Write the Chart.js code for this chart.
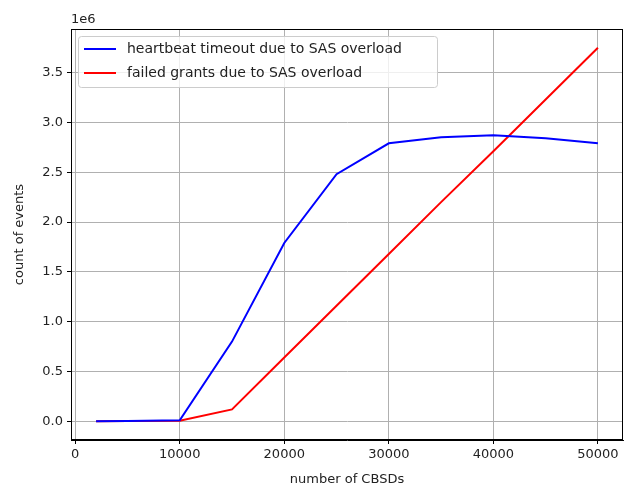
<!DOCTYPE html>
<html>
<head>
<meta charset="utf-8">
<script src="https://cdn.jsdelivr.net/npm/chart.js@4.4.0/dist/chart.umd.min.js"></script>
<style>
  html, body { margin: 0; padding: 0; background: #fff; }
  #wrap { width: 625px; height: 485px; }
</style>
</head>
<body>
<div id="wrap"><canvas id="chart" width="625" height="485"></canvas></div>
<script>
// data
var cbsds = [2000, 5000, 10000, 15000, 20000, 25000, 30000, 35000, 40000, 45000, 50000];
var heartbeatTimeouts = [0, 3000, 10000, 800000, 1790000, 2480000, 2790000, 2850000, 2870000, 2840000, 2790000];
var failedGrants = [0, 2000, 5000, 120000, 640000, 1160000, 1680000, 2200000, 2710000, 3230000, 3750000];
var xTicks = [0, 10000, 20000, 30000, 40000, 50000];
var yTicks = [0, 500000, 1000000, 1500000, 2000000, 2500000, 3000000, 3500000];
var seriesNames = ['heartbeat timeout due to SAS overload', 'failed grants due to SAS overload'];

var FONT = 'DejaVu Sans';

function toPoints(xs, ys) {
  return xs.map(function (x, i) { return { x: x, y: ys[i] }; });
}

// frame, "1e6" offset text and the legend box
var decorPlugin = {
  id: 'decor',
  afterDraw: function (chart) {
    var ctx = chart.ctx;
    var a = chart.chartArea;
    ctx.save();
    ctx.strokeStyle = '#000';
    ctx.lineWidth = 1;
    ctx.strokeRect(a.left + 0.5, a.top + 0.5, a.right - a.left - 1, a.bottom - a.top - 1);

    ctx.fillStyle = '#222';
    ctx.font = '13px "' + FONT + '"';
    ctx.textAlign = 'left';
    ctx.textBaseline = 'alphabetic';
    ctx.fillText('1e6', a.left, a.top - 6);

    // legend
    var bx = a.left + 7, by = a.top + 7, bw = 359, bh = 51;
    ctx.beginPath();
    if (ctx.roundRect) ctx.roundRect(bx + 0.5, by + 0.5, bw, bh, 3);
    else ctx.rect(bx + 0.5, by + 0.5, bw, bh);
    ctx.fillStyle = 'rgba(255,255,255,0.8)';
    ctx.fill();
    ctx.strokeStyle = '#cccccc';
    ctx.stroke();

    chart.data.datasets.forEach(function (ds, i) {
      var ly = by + 13 + i * 24;
      ctx.beginPath();
      ctx.moveTo(bx + 6, ly);
      ctx.lineTo(bx + 38, ly);
      ctx.strokeStyle = ds.borderColor;
      ctx.lineWidth = 2;
      ctx.stroke();
      ctx.fillStyle = '#222';
      ctx.textBaseline = 'middle';
      ctx.font = '14px "' + FONT + '"';
      ctx.fillText(ds.label, bx + 49, ly);
    });
    ctx.restore();
  }
};

var ctx = document.getElementById('chart').getContext('2d');
new Chart(ctx, {
  type: 'scatter',
  data: {
    datasets: [{
      label: seriesNames[0],
      data: toPoints(cbsds, heartbeatTimeouts),
      showLine: true,
      borderColor: '#0000ff',
      backgroundColor: '#0000ff',
      borderWidth: 2,
      pointRadius: 0,
      tension: 0
    }, {
      label: seriesNames[1],
      data: toPoints(cbsds, failedGrants),
      showLine: true,
      borderColor: '#ff0000',
      backgroundColor: '#ff0000',
      borderWidth: 2,
      pointRadius: 0,
      tension: 0
    }]
  },
  options: {
    responsive: false,
    animation: false,
    layout: { padding: { top: 29, right: 2, left: 12, bottom: 0 } },
    plugins: {
      legend: { display: false },
      tooltip: { enabled: false }
    },
    scales: {
      x: {
        type: 'linear',
        min: -400,
        max: 52400,
        afterBuildTicks: function (scale) {
          scale.ticks = xTicks.map(function (v) { return { value: v }; });
        },
        afterFit: function (scale) { scale.height = 45; },
        grid: { color: '#b0b0b0', tickColor: '#000', tickLength: 4, lineWidth: 1 },
        border: { color: '#000' },
        ticks: {
          color: '#222',
          padding: 3,
          maxRotation: 0,
          font: { family: FONT, size: 13 },
          callback: function (v) { return String(v); }
        },
        title: {
          display: true,
          text: 'number of CBSDs',
          color: '#222',
          padding: { top: 0, bottom: -2 },
          font: { family: FONT, size: 13 }
        }
      },
      y: {
        min: -187500,
        max: 3937500,
        afterBuildTicks: function (scale) {
          scale.ticks = yTicks.map(function (v) { return { value: v }; });
        },
        afterFit: function (scale) { scale.width = 59; },
        grid: { color: '#b0b0b0', tickColor: '#000', tickLength: 4, lineWidth: 1 },
        border: { color: '#000' },
        ticks: {
          color: '#222',
          padding: 4,
          font: { family: FONT, size: 13 },
          callback: function (v) { return (v / 1e6).toFixed(1); }
        },
        title: {
          display: true,
          text: 'count of events',
          color: '#222',
          padding: { top: 0, bottom: 6 },
          font: { family: FONT, size: 13 }
        }
      }
    }
  },
  plugins: [decorPlugin]
});
</script>
</body>
</html>
